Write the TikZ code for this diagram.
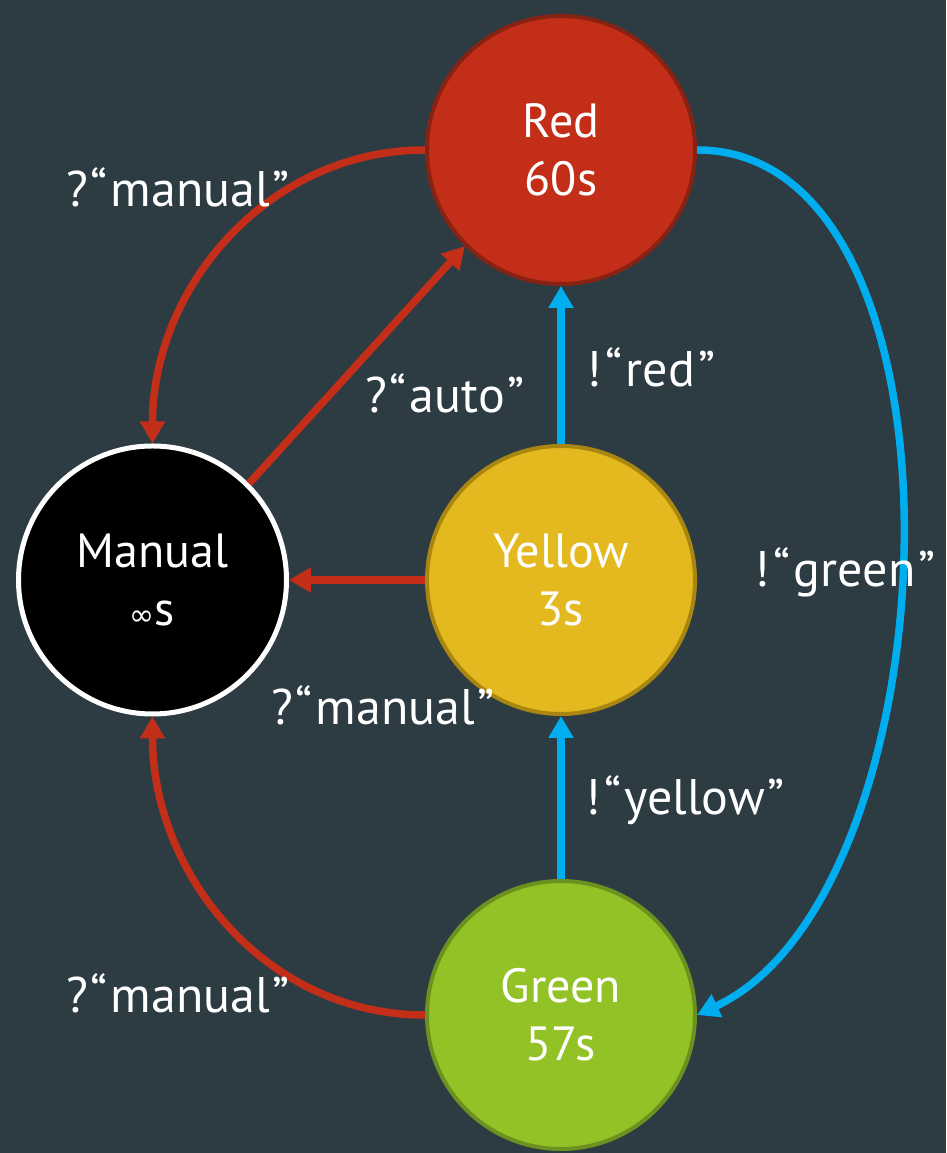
\documentclass[tikz,border=0pt]{standalone}
\usepackage{fontspec}
\setmainfont{PT Sans}
\newfontfamily\symfont{DejaVu Sans}
\usetikzlibrary{arrows.meta,positioning}
\definecolor{bgdark}{HTML}{2D3B43}
\definecolor{redfill}{HTML}{C32E18}
\definecolor{redline}{HTML}{8A2213}
\definecolor{yellowfill}{HTML}{E4B91F}
\definecolor{yellowline}{HTML}{A8860F}
\definecolor{greenfill}{HTML}{92C225}
\definecolor{greenline}{HTML}{6B9120}
\definecolor{cmdblue}{HTML}{00AEEF}
\newcommand{\recvmsg}[1]{?\kern3pt“\kern3pt#1\kern3pt”}
\newcommand{\sendmsg}[1]{!\kern4pt“\kern3pt#1\kern3pt”}

\begin{document}
\begin{tikzpicture}[
    x=1pt,y=1pt,
    state/.style={circle,draw,line width=4pt,minimum size=268pt,inner sep=0pt,align=center,text=white,font=\fontsize{48}{58}\selectfont},
    lbl/.style={text=white,inner sep=0pt,font=\fontsize{50}{58}\selectfont},
    autoarrow/.style={-{Triangle[length=22pt,width=24pt]},line width=7.5pt,draw=redfill},
    cmdarrow/.style={-{Triangle[length=22pt,width=24pt]},line width=7.5pt,draw=cmdblue}
  ]
    \useasboundingbox (0,0) rectangle (946,1153);
    \fill[bgdark] (0,0) rectangle (946,1153);
    \node[state,fill=yellowfill,draw=yellowline] (yellow) at (561,573) {Yellow\\3s};
    \node[state,fill=redfill,draw=redline,above=158pt of yellow] (red) {Red\\60s};
    \node[state,fill=greenfill,draw=greenline,below=163pt of yellow] (green) {Green\\57s};
    \node[state,fill=black,draw=white,line width=5pt,left=136pt of yellow] (manual) {Manual\\{\symfont\fontsize{30}{30}\selectfont ∞}s};
    \draw[autoarrow] (red.west) to[out=180,in=90] (manual.north);
    \draw[autoarrow] (manual.45) -- (red.225);
    \draw[autoarrow] (yellow) -- (manual);
    \draw[autoarrow] (green.west) to[out=180,in=-90] (manual.south);
    \draw[cmdarrow] (yellow) -- (red);
    \draw[cmdarrow] (green) -- (yellow);
    \draw[cmdarrow] (red.east) to[out=0,in=25,looseness=0.85] (green.east);
    \node[lbl] (redman) at (178,966) {\recvmsg{manual}};
    \node[lbl] (autolbl) at (445,760) {\recvmsg{auto}};
    \node[lbl] (redlbl) at (651,786) {\sendmsg{red}};
    \node[lbl] (greenlbl) at (845,581) {\sendmsg{green}};
    \node[lbl] (yelman) at (383,448) {\recvmsg{manual}};
    \node[lbl] (yellowlbl) at (685,353) {\sendmsg{yellow}};
    \node[lbl] (greenman) at (178,160) {\recvmsg{manual}};
\end{tikzpicture}
\end{document}
